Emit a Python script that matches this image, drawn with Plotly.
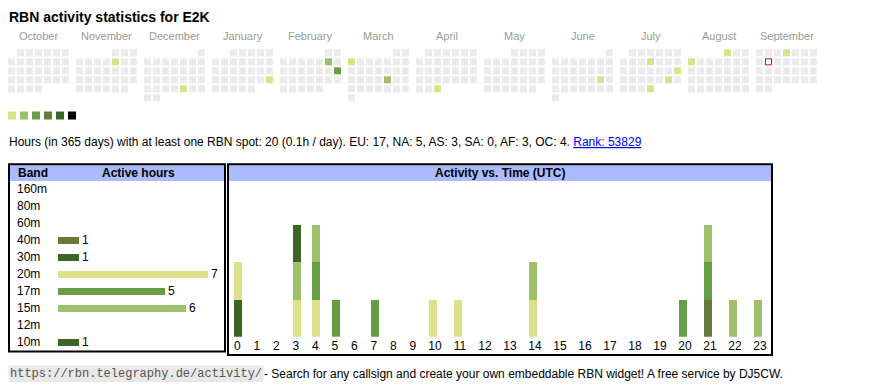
import datetime as dt
import plotly.graph_objects as go

# page is 870x390; the html body has an 8px margin, so the figure is placed at (8, 8)
PAGE_W, PAGE_H = 870, 390
OFF = 8
FW, FH = PAGE_W - 2 * OFF, PAGE_H - 2 * OFF
FONT = "Liberation Sans, Arial, sans-serif"
MONO = "Liberation Mono, Courier New, monospace"

# ---------------- data ----------------
callsign = "E2K"
month_names = ["October", "November", "December", "January", "February", "March",
               "April", "May", "June", "July", "August", "September"]
cal_first_month = (2024, 10)
today = "2025-09-09"
active_dates = ["2024-11-08", "2024-12-27", "2025-01-26", "2025-02-08", "2025-02-16",
                "2025-03-03", "2025-03-21", "2025-04-30", "2025-06-21", "2025-07-10",
                "2025-07-20", "2025-07-26", "2025-07-31", "2025-08-01", "2025-08-04",
                "2025-09-04"]
active_day_hours = [1, 1, 1, 2, 3, 1, 2, 1, 1, 1, 1, 1, 1, 1, 1, 1]
level_colors = ["#dbe08b", "#9dc06b", "#679e45", "#66783a", "#3b6626", "#000000"]
empty_color = "#ebebeb"

total_hours = 20
hours_per_day = 0.1
continents = ["EU", "NA", "AS", "SA", "AF", "OC"]
continent_hours = [17, 5, 3, 0, 3, 4]
rank = 53829

bands = ["160m", "80m", "60m", "40m", "30m", "20m", "17m", "15m", "12m", "10m"]
band_hours = [0, 0, 0, 1, 1, 7, 5, 6, 0, 1]
band_colors = ["#cccccc", "#cccccc", "#cccccc", "#66783a", "#3b6626",
               "#dbe08b", "#679e45", "#9dc06b", "#cccccc", "#3b6626"]

hour_labels = [str(h) for h in range(24)]
#            0  1  2  3  4  5  6  7  8  9 10 11 12 13 14 15 16 17 18 19 20 21 22 23
hours_40m = [0, 0, 0, 0, 0, 0, 0, 0, 0, 0, 0, 0, 0, 0, 0, 0, 0, 0, 0, 0, 0, 1, 0, 0]
hours_30m = [1, 0, 0, 0, 0, 0, 0, 0, 0, 0, 0, 0, 0, 0, 0, 0, 0, 0, 0, 0, 0, 0, 0, 0]
hours_20m = [1, 0, 0, 1, 1, 0, 0, 0, 0, 0, 1, 1, 0, 0, 1, 0, 0, 0, 0, 0, 0, 0, 0, 0]
hours_17m = [0, 0, 0, 0, 1, 1, 0, 1, 0, 0, 0, 0, 0, 0, 0, 0, 0, 0, 0, 0, 1, 1, 0, 0]
hours_15m = [0, 0, 0, 1, 1, 0, 0, 0, 0, 0, 0, 0, 0, 0, 1, 0, 0, 0, 0, 0, 0, 1, 1, 1]
hours_10m = [0, 0, 0, 1, 0, 0, 0, 0, 0, 0, 0, 0, 0, 0, 0, 0, 0, 0, 0, 0, 0, 0, 0, 0]
stack = [("40m", hours_40m), ("30m", hours_30m), ("20m", hours_20m),
         ("17m", hours_17m), ("15m", hours_15m), ("10m", hours_10m)]

# ---------------- layout helpers (page pixel -> figure fraction) ----------------
def fx(px):
    return (px - OFF) / FW

def fy(px):
    return 1 - (px - OFF) / FH

XR = [OFF, OFF + FW]          # page-pixel x range of the figure
YR = [OFF + FH, OFF]          # page-pixel y range (reversed)

fig = go.Figure()

# ---- calendar (1 axis unit = one 9px cell pitch) ----
PITCH = 9.0
MONTH_STEP = 68 / PITCH
CAL_X0, CAL_Y0 = 11.5, 52.8
level_of = {d: h for d, h in zip(active_dates, active_day_hours)}
cx, cy, cc = [], [], []
tx, ty = [], []
y0, m0 = cal_first_month
for mi in range(12):
    yy = y0 + (m0 - 1 + mi) // 12
    mm = (m0 - 1 + mi) % 12 + 1
    first = dt.date(yy, mm, 1)
    d = first
    while d.month == mm:
        row = (d.day - 1 + first.weekday()) // 7
        col = d.weekday()
        x = mi * MONTH_STEP + col
        key = d.isoformat()
        if key == today:
            tx.append(x); ty.append(row)
        else:
            cx.append(x); cy.append(row)
            lv = level_of.get(key, 0)
            cc.append(level_colors[min(lv, 6) - 1] if lv else empty_color)
        d += dt.timedelta(days=1)

fig.add_trace(go.Scatter(x=cx, y=cy, mode="markers", xaxis="x3", yaxis="y3",
                         marker=dict(symbol="square", size=7, color=cc, line=dict(width=0)),
                         hoverinfo="skip", showlegend=False))
fig.add_trace(go.Scatter(x=tx, y=ty, mode="markers", xaxis="x3", yaxis="y3",
                         marker=dict(symbol="square", size=6, color="white",
                                     line=dict(width=1, color="#ee0000")),
                         hoverinfo="skip", showlegend=False))

# ---- colour key squares (1 unit = 12px) ----
fig.add_trace(go.Scatter(x=list(range(len(level_colors))), y=[115.5] * len(level_colors),
                         mode="markers", xaxis="x4", yaxis="y5",
                         marker=dict(symbol="square", size=8, color=level_colors, line=dict(width=0)),
                         hoverinfo="skip", showlegend=False))

# ---- band table ----
fig.add_trace(go.Bar(x=band_hours, y=bands, orientation="h", xaxis="x2", yaxis="y2",
                     marker=dict(color=band_colors, line=dict(width=0)), width=0.38,
                     text=[str(v) if v else "" for v in band_hours], textposition="outside",
                     constraintext="none",
                     textfont=dict(family=FONT, size=12, color="#000"), cliponaxis=False,
                     hoverinfo="skip", showlegend=False))

# ---- activity vs time ----
cell_w = [14 + 5.5 * len(s) for s in hour_labels]
lefts, acc = [], 227.5
for w in cell_w:
    lefts.append(acc)
    acc += w
centers = [l + w / 2 for l, w in zip(lefts, cell_w)]
for band, vals in stack:
    fig.add_trace(go.Bar(x=lefts, y=vals, width=8, offset=6.5, xaxis="x", yaxis="y",
                         marker=dict(color=band_colors[bands.index(band)], line=dict(width=0)),
                         name=band, hoverinfo="skip", showlegend=False))

# ---------------- shapes & text ----------------
shapes = []
def rect(x0, y0, x1, y1, **kw):
    shapes.append(dict(type="rect", xref="x5", yref="y5", x0=x0, x1=x1, y0=y0, y1=y1, **kw))

rect(10, 165.3, 224, 181, fillcolor="#aabbff", line=dict(width=0))
rect(229, 165.3, 771, 181, fillcolor="#aabbff", line=dict(width=0))
rect(9, 164.3, 225, 351.5, line=dict(width=2, color="#000"))
rect(228, 164.3, 772, 355, line=dict(width=2, color="#000"))

ann = []
def text(x, y, s, size=12, bold=False, anchor="left", color="#000", family=FONT, **kw):
    ann.append(dict(x=x, y=y, xref=kw.pop("xref", "x5"), yref=kw.pop("yref", "y5"),
                    text=f"<b>{s}</b>" if bold else s, showarrow=False,
                    xanchor=anchor, yanchor="middle", borderpad=kw.pop("borderpad", 0),
                    font=dict(family=family, size=size, color=color), **kw))

text(8, 16.5, f"RBN activity statistics for {callsign}", size=14, bold=True)
for mi, name in enumerate(month_names):
    text(mi * MONTH_STEP + 3, 35.5, name, size=11, anchor="center", color="#999999", xref="x3")

cont = ", ".join(f"{c}: {v}" for c, v in zip(continents, continent_hours))
stats = (f"Hours (in 365 days) with at least one RBN spot: {total_hours} "
         f"({hours_per_day}h / day). {cont}. "
         f"<a href='https://rbn.telegraphy.de/activity/{callsign}' style='color:#0000ee'>"
         f"<u>Rank: {rank}</u></a>")
text(8, 142, stats)

text(17, 173, "Band", bold=True)
text(138, 173, "Active hours", bold=True, anchor="center")
text(500, 173, "Activity vs. Time (UTC)", bold=True, anchor="center")
for b in bands:
    text(16, b, b, yref="y2")

url = "https://rbn.telegraphy.de/activity/"
text(8, 374, url, family=MONO, size=12, color="#555555", bgcolor="#e8e8e8", borderpad=1)
text(8 + len(url) * 7.2 + 3, 374,
     "- Search for any callsign and create your own embeddable RBN widget! A free service by DJ5CW.",
     size=12)

hidden = dict(visible=False, fixedrange=True)
fig.update_layout(
    width=FW, height=FH, margin=dict(l=0, r=0, t=0, b=0),
    paper_bgcolor="white", plot_bgcolor="rgba(0,0,0,0)",
    barmode="stack", bargap=0, showlegend=False,
    font=dict(family=FONT, size=12, color="#000"),
    xaxis=dict(domain=[0, 1], range=XR, anchor="y", tickvals=centers, ticktext=hour_labels,
               showgrid=False, zeroline=False, showline=False, ticks="",
               tickfont=dict(family=FONT, size=12, color="#000"), fixedrange=True),
    yaxis=dict(domain=[fy(336.7), fy(188)], range=[0, 4], anchor="x", **hidden),
    xaxis2=dict(domain=[fx(58), fx(58 + 21.4 * 8)], range=[0, 8], anchor="y2", **hidden),
    yaxis2=dict(domain=[fy(350.5), fy(180.5)], type="category", categoryarray=bands,
                categoryorder="array", range=[9.5, -0.5], anchor="x2", **hidden),
    xaxis3=dict(domain=[0, 1], range=[(XR[0] - CAL_X0) / PITCH, (XR[1] - CAL_X0) / PITCH],
                anchor="y3", **hidden),
    yaxis3=dict(domain=[0, 1], range=[(YR[0] - CAL_Y0) / PITCH, (YR[1] - CAL_Y0) / PITCH],
                anchor="x3", **hidden),
    xaxis4=dict(domain=[0, 1], range=[(XR[0] - 12) / 12, (XR[1] - 12) / 12],
                anchor="y5", **hidden),
    xaxis5=dict(domain=[0, 1], range=XR, anchor="y5", **hidden),
    yaxis5=dict(domain=[0, 1], range=YR, anchor="x5", **hidden),
    shapes=shapes, annotations=ann,
)

fig.write_html("out.html")
